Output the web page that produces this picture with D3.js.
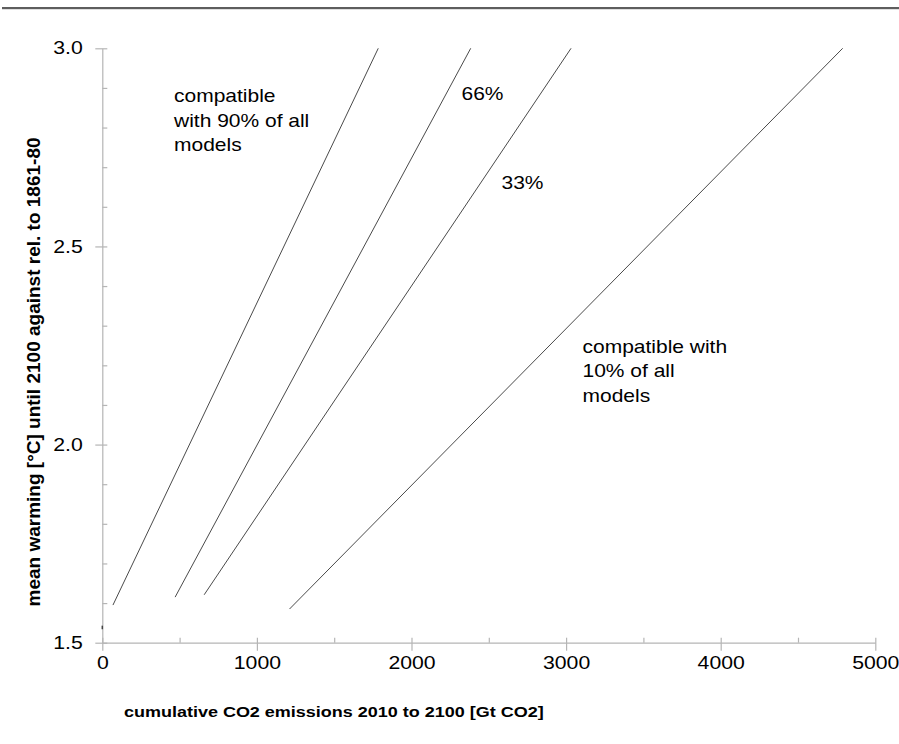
<!DOCTYPE html>
<html>
<head>
<meta charset="utf-8">
<script src="https://cdn.jsdelivr.net/npm/d3@7/dist/d3.min.js"></script>
<style>
  html, body { margin: 0; padding: 0; background: #fff; }
  svg { display: block; font-family: "Liberation Sans", Arial, sans-serif; }
</style>
</head>
<body>
<svg id="chart" width="899" height="744"></svg>
<script>
// Model-compatibility lines: warming vs cumulative CO2 emissions
const categories = ["90%", "66%", "33%", "10%"];
const startEmissions = [69, 471, 659, 1211];
const startWarming = [1.595, 1.615, 1.621, 1.585];
const endEmissions = [1785, 2383, 3032, 4789];
const endWarming = [3.0, 3.0, 3.0, 3.0];

// short stub sitting on the warming axis
const stubEmissions = [0, 0];
const stubWarming = [1.534, 1.543];

const xMajorTicks = [0, 1000, 2000, 3000, 4000, 5000];
const xMinorTicks = [500, 1500, 2500, 3500, 4500];
const yMajorTicks = [1.5, 2.0, 2.5, 3.0];
const yMinorTicks = [1.6, 1.7, 1.8, 1.9, 2.1, 2.2, 2.3, 2.4, 2.6, 2.7, 2.8, 2.9];

const xTitle = "cumulative CO2 emissions 2010 to 2100 [Gt CO2]";
const yTitle = "mean warming [°C] until 2100 against rel. to 1861-80";

const annotations = [
  { lines: ["compatible", "with 90% of all", "models"], x: 174, y: 102 },
  { lines: ["66%"], x: 461.5, y: 99.5 },
  { lines: ["33%"], x: 501.5, y: 188.5 },
  { lines: ["compatible with", "10% of all", "models"], x: 582.5, y: 352.5 }
];

const svg = d3.select("#chart");
const axisColor = "#b5b5b5";
const stretch = 1.2;   // horizontal widening of the text glyphs

const x = d3.scaleLinear().domain([0, 5000]).range([102.3, 875.3]);
const y = d3.scaleLinear().domain([1.5, 3.0]).range([642.7, 48.3]);

// header rule
svg.append("rect")
  .attr("x", 2).attr("y", 7).attr("width", 897).attr("height", 2.2)
  .attr("fill", "#5e5e5e");

// y axis: major ticks cross the axis, minor ticks point inward
const yAxisG = svg.append("g")
  .attr("transform", `translate(${x(0)},0)`)
  .call(d3.axisLeft(y).tickValues(yMajorTicks).tickFormat(d3.format(".1f"))
        .tickSizeInner(7).tickSizeOuter(0));
yAxisG.selectAll(".tick line").attr("x1", 5);
yAxisG.selectAll(".tick text")
  .attr("x", -19.6 / stretch)
  .attr("transform", `scale(${stretch},1)`);
const yMinorG = svg.append("g")
  .attr("transform", `translate(${x(0)},0)`)
  .call(d3.axisRight(y).tickValues(yMinorTicks).tickFormat("").tickSize(5).tickSizeOuter(0));
yMinorG.select(".domain").remove();

// x axis
const xAxisG = svg.append("g")
  .attr("transform", `translate(0,${y(1.5)})`)
  .call(d3.axisBottom(x).tickValues(xMajorTicks).tickFormat(d3.format("d"))
        .tickSizeInner(8).tickSizeOuter(0).tickPadding(6));
xAxisG.selectAll(".tick line").attr("y1", -5);
xAxisG.selectAll(".tick text").attr("transform", `scale(${stretch},1)`);
const xMinorG = svg.append("g")
  .attr("transform", `translate(0,${y(1.5)})`)
  .call(d3.axisTop(x).tickValues(xMinorTicks).tickFormat("").tickSize(5).tickSizeOuter(0));
xMinorG.select(".domain").remove();

svg.selectAll(".domain, .tick line").attr("stroke", axisColor).attr("stroke-width", 1.2);
svg.selectAll(".tick text")
  .attr("fill", "#000")
  .style("font-size", "17.7px")
  .style("font-family", "'Liberation Sans', Arial, sans-serif");

// series lines
const line = d3.line().x(d => x(d[0])).y(d => y(d[1]));
svg.append("g").selectAll("path")
  .data(categories.map((c, i) => ({
    name: c,
    pts: [[startEmissions[i], startWarming[i]], [endEmissions[i], endWarming[i]]]
  })))
  .join("path")
  .attr("d", d => line(d.pts))
  .attr("fill", "none")
  .attr("stroke", "#4a4a4a")
  .attr("stroke-width", 1);

svg.append("path")
  .attr("d", line(stubEmissions.map((e, i) => [e, stubWarming[i]])))
  .attr("fill", "none")
  .attr("stroke", "#444")
  .attr("stroke-width", 1.5);

// annotations
annotations.forEach(a => {
  const t = svg.append("text")
    .attr("transform", `translate(${a.x},${a.y}) scale(${stretch},1)`)
    .style("font-size", "17.5px").attr("fill", "#000");
  a.lines.forEach((s, i) => {
    t.append("tspan").attr("x", 0).attr("dy", i === 0 ? 0 : 24.6).text(s);
  });
});

// axis titles
svg.append("text")
  .attr("transform", `translate(124,717) scale(${stretch},1)`)
  .style("font-size", "15px").style("font-weight", "bold")
  .attr("fill", "#000")
  .text(xTitle);

svg.append("text")
  .attr("transform", "translate(39.5,372) rotate(-90)")
  .attr("text-anchor", "middle")
  .style("font-size", "19px").style("font-weight", "bold")
  .attr("fill", "#000")
  .text(yTitle);
</script>
</body>
</html>
